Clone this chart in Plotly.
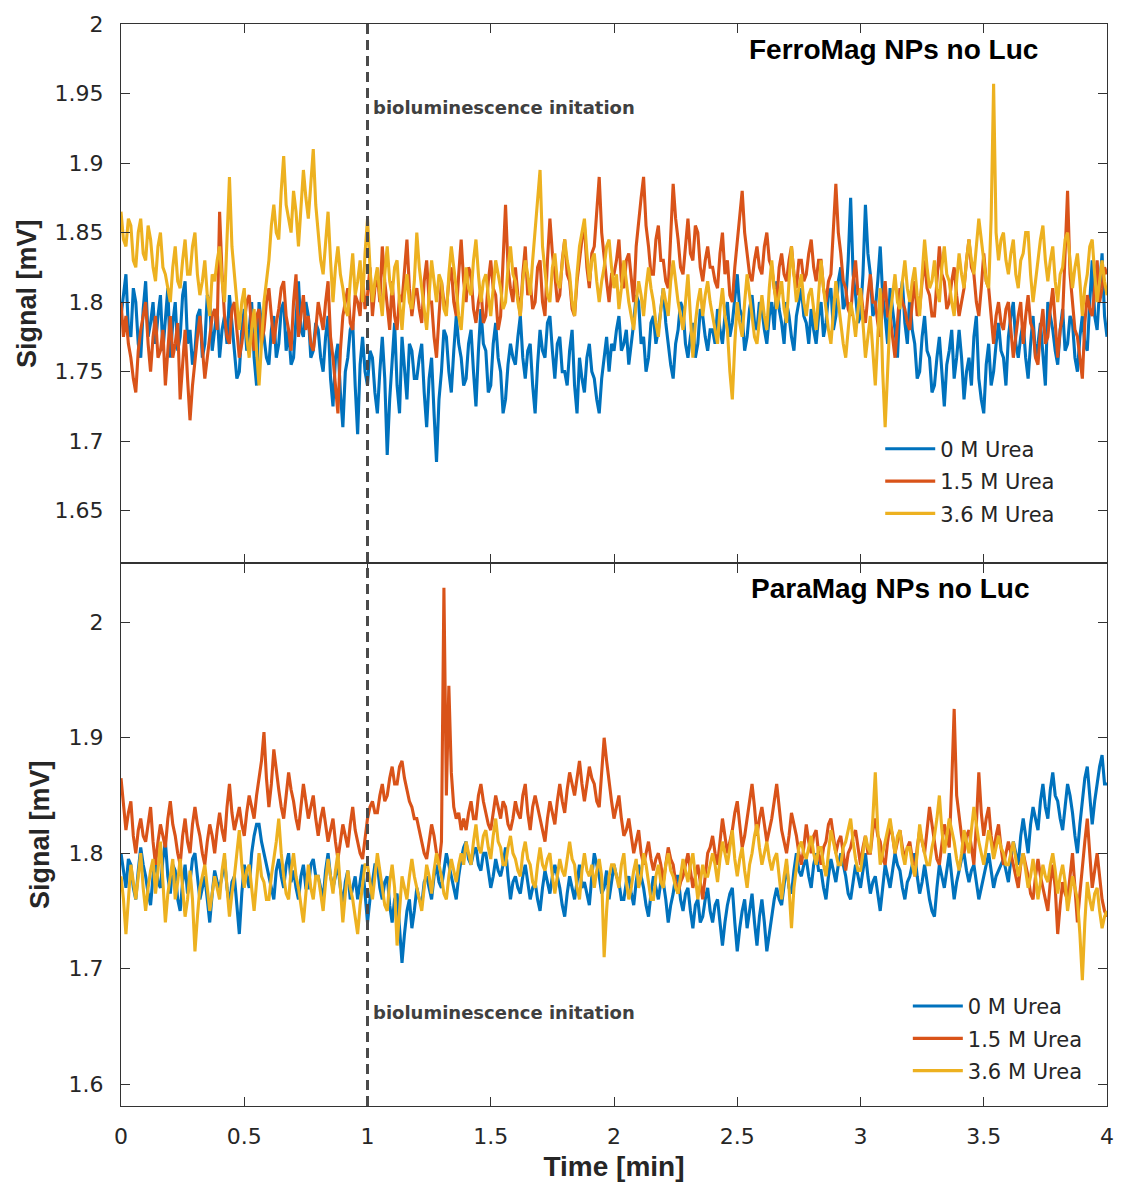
import plotly.graph_objects as go

# ---------------- data (signal in mV, sampled every 0.01 min) ----------------
DT = 0.01

ferro_0M = [
    1.790,1.805,1.820,1.780,1.775,1.810,1.800,1.770,1.760,1.795,1.815,1.775,1.785,1.800,1.770,1.790,1.805,1.765,1.790,1.810,
    1.760,1.785,1.800,1.765,1.775,1.805,1.815,1.770,1.780,1.755,1.765,1.790,1.795,1.760,1.770,1.805,1.800,1.765,1.780,1.795,
    1.760,1.780,1.790,1.770,1.805,1.785,1.770,1.745,1.750,1.780,1.795,1.765,1.780,1.800,1.760,1.740,1.800,1.785,1.775,1.760,
    1.755,1.780,1.790,1.760,1.770,1.795,1.800,1.765,1.780,1.755,1.760,1.790,1.815,1.780,1.775,1.800,1.790,1.760,1.765,1.785,
    1.780,1.760,1.750,1.775,1.790,1.745,1.725,1.760,1.770,1.735,1.710,1.750,1.760,1.780,1.785,1.740,1.705,1.755,1.775,1.750,
    1.740,1.765,1.760,1.735,1.720,1.750,1.775,1.745,1.690,1.730,1.760,1.785,1.740,1.720,1.775,1.755,1.730,1.770,1.765,1.745,
    1.745,1.760,1.770,1.735,1.710,1.745,1.760,1.720,1.685,1.730,1.750,1.780,1.775,1.750,1.735,1.765,1.790,1.770,1.760,1.740,
    1.745,1.770,1.780,1.750,1.725,1.765,1.795,1.770,1.765,1.735,1.740,1.770,1.785,1.760,1.750,1.720,1.730,1.755,1.770,1.760,
    1.755,1.775,1.790,1.760,1.745,1.765,1.770,1.740,1.720,1.755,1.780,1.765,1.760,1.785,1.790,1.765,1.745,1.770,1.775,1.750,
    1.750,1.740,1.765,1.780,1.740,1.720,1.760,1.745,1.735,1.760,1.770,1.750,1.745,1.730,1.720,1.745,1.760,1.775,1.750,1.770,
    1.765,1.780,1.790,1.765,1.770,1.780,1.755,1.770,1.785,1.805,1.800,1.770,1.775,1.750,1.760,1.785,1.790,1.770,1.780,1.795,
    1.810,1.785,1.770,1.755,1.745,1.770,1.780,1.800,1.795,1.770,1.760,1.775,1.785,1.760,1.770,1.795,1.790,1.775,1.765,1.780,
    1.780,1.770,1.795,1.780,1.770,1.790,1.800,1.775,1.785,1.805,1.820,1.795,1.790,1.765,1.775,1.795,1.805,1.785,1.780,1.800,
    1.795,1.780,1.770,1.790,1.800,1.780,1.815,1.795,1.785,1.770,1.800,1.790,1.775,1.765,1.790,1.800,1.810,1.790,1.785,1.770,
    1.795,1.780,1.770,1.790,1.800,1.775,1.785,1.805,1.810,1.780,1.790,1.815,1.825,1.795,1.800,1.830,1.875,1.820,1.805,1.785,
    1.790,1.820,1.870,1.835,1.820,1.790,1.795,1.815,1.840,1.805,1.790,1.770,1.810,1.795,1.780,1.760,1.800,1.815,1.785,1.770,
    1.805,1.780,1.770,1.745,1.750,1.775,1.790,1.765,1.760,1.735,1.740,1.760,1.775,1.750,1.725,1.755,1.765,1.780,1.745,1.760,
    1.780,1.760,1.730,1.750,1.760,1.740,1.775,1.790,1.745,1.730,1.720,1.755,1.770,1.740,1.750,1.770,1.785,1.765,1.760,1.740,
    1.775,1.790,1.800,1.770,1.760,1.775,1.785,1.760,1.745,1.770,1.790,1.760,1.770,1.785,1.760,1.740,1.800,1.790,1.780,1.765,
    1.755,1.780,1.795,1.765,1.770,1.790,1.785,1.760,1.750,1.775,1.790,1.770,1.765,1.800,1.830,1.790,1.780,1.810,1.835,1.790,
    1.775,
]

ferro_15M = [
    1.800,1.775,1.790,1.770,1.760,1.745,1.735,1.765,1.780,1.790,1.800,1.770,1.750,1.775,1.790,1.760,1.765,1.780,1.740,1.765,
    1.790,1.760,1.770,1.785,1.730,1.755,1.780,1.745,1.715,1.740,1.760,1.775,1.790,1.770,1.745,1.760,1.775,1.790,1.795,1.780,
    1.865,1.820,1.790,1.775,1.770,1.795,1.800,1.780,1.760,1.770,1.785,1.800,1.805,1.780,1.765,1.790,1.795,1.770,1.780,1.800,
    1.810,1.790,1.770,1.785,1.795,1.810,1.815,1.790,1.780,1.765,1.800,1.820,1.775,1.790,1.805,1.780,1.790,1.770,1.765,1.780,
    1.800,1.790,1.780,1.800,1.815,1.775,1.760,1.740,1.720,1.765,1.790,1.800,1.810,1.785,1.780,1.805,1.800,1.790,1.820,1.795,
    1.805,1.825,1.790,1.810,1.820,1.800,1.840,1.815,1.795,1.780,1.815,1.790,1.780,1.805,1.800,1.825,1.845,1.810,1.790,1.805,
    1.810,1.795,1.785,1.815,1.830,1.800,1.800,1.775,1.760,1.790,1.815,1.800,1.795,1.815,1.825,1.800,1.790,1.820,1.845,1.815,
    1.800,1.825,1.820,1.795,1.785,1.800,1.810,1.785,1.790,1.815,1.830,1.810,1.805,1.780,1.790,1.830,1.870,1.825,1.810,1.800,
    1.825,1.805,1.790,1.820,1.840,1.805,1.815,1.795,1.800,1.825,1.830,1.800,1.790,1.830,1.860,1.835,1.820,1.800,1.805,1.830,
    1.845,1.820,1.815,1.795,1.790,1.815,1.830,1.845,1.855,1.825,1.810,1.835,1.840,1.865,1.890,1.850,1.830,1.815,1.800,1.820,
    1.820,1.830,1.845,1.815,1.810,1.830,1.835,1.815,1.800,1.840,1.860,1.875,1.890,1.855,1.840,1.820,1.820,1.845,1.855,1.830,
    1.830,1.815,1.810,1.850,1.885,1.860,1.845,1.825,1.820,1.840,1.860,1.835,1.830,1.855,1.850,1.825,1.815,1.830,1.840,1.825,
    1.825,1.815,1.810,1.835,1.850,1.820,1.830,1.805,1.800,1.825,1.845,1.860,1.880,1.850,1.835,1.820,1.815,1.830,1.840,1.825,
    1.820,1.840,1.850,1.830,1.825,1.810,1.800,1.825,1.835,1.820,1.815,1.830,1.840,1.820,1.810,1.830,1.830,1.815,1.820,1.835,
    1.845,1.825,1.815,1.830,1.830,1.810,1.800,1.815,1.820,1.850,1.885,1.850,1.835,1.815,1.810,1.795,1.790,1.815,1.830,1.805,
    1.810,1.795,1.785,1.805,1.820,1.800,1.800,1.785,1.775,1.800,1.815,1.790,1.790,1.775,1.760,1.785,1.810,1.800,1.795,1.785,
    1.780,1.800,1.815,1.790,1.795,1.815,1.830,1.810,1.805,1.790,1.790,1.815,1.840,1.820,1.815,1.795,1.800,1.815,1.825,1.805,
    1.790,1.800,1.810,1.830,1.845,1.825,1.820,1.800,1.790,1.810,1.835,1.815,1.810,1.790,1.770,1.790,1.800,1.785,1.780,1.795,
    1.800,1.780,1.760,1.775,1.790,1.800,1.770,1.790,1.805,1.785,1.780,1.760,1.755,1.780,1.795,1.770,1.775,1.795,1.810,1.785,
    1.760,1.780,1.790,1.835,1.880,1.820,1.800,1.780,1.775,1.760,1.745,1.785,1.805,1.795,1.790,1.810,1.830,1.800,1.810,1.825,
    1.820,
]

ferro_36M = [
    1.865,1.845,1.840,1.860,1.855,1.830,1.825,1.850,1.860,1.835,1.830,1.855,1.845,1.825,1.815,1.840,1.850,1.825,1.820,1.810,
    1.800,1.825,1.840,1.815,1.810,1.830,1.845,1.820,1.820,1.840,1.850,1.820,1.805,1.815,1.830,1.805,1.790,1.820,1.815,1.830,
    1.840,1.815,1.800,1.845,1.890,1.840,1.820,1.795,1.780,1.800,1.810,1.775,1.760,1.780,1.795,1.765,1.740,1.770,1.800,1.815,
    1.830,1.855,1.870,1.850,1.845,1.880,1.905,1.870,1.860,1.850,1.880,1.865,1.840,1.870,1.895,1.875,1.860,1.885,1.910,1.870,
    1.850,1.830,1.820,1.845,1.865,1.830,1.800,1.825,1.840,1.820,1.810,1.795,1.790,1.815,1.835,1.805,1.815,1.830,1.800,1.835,
    1.860,1.825,1.800,1.815,1.825,1.805,1.790,1.820,1.840,1.815,1.805,1.825,1.830,1.800,1.780,1.805,1.820,1.800,1.795,1.815,
    1.850,1.825,1.810,1.795,1.780,1.805,1.830,1.815,1.800,1.820,1.815,1.795,1.790,1.820,1.840,1.825,1.810,1.790,1.780,1.805,
    1.825,1.810,1.805,1.830,1.845,1.820,1.800,1.815,1.820,1.805,1.790,1.810,1.830,1.820,1.810,1.795,1.800,1.825,1.840,1.820,
    1.815,1.800,1.790,1.815,1.830,1.820,1.805,1.830,1.850,1.870,1.895,1.840,1.820,1.805,1.800,1.825,1.835,1.815,1.810,1.830,
    1.845,1.830,1.820,1.800,1.790,1.820,1.840,1.850,1.860,1.835,1.815,1.830,1.835,1.815,1.800,1.815,1.825,1.840,1.845,1.825,
    1.810,1.820,1.795,1.810,1.830,1.815,1.800,1.790,1.780,1.800,1.815,1.805,1.790,1.810,1.825,1.810,1.800,1.785,1.775,1.795,
    1.810,1.800,1.790,1.815,1.830,1.815,1.800,1.790,1.780,1.800,1.820,1.790,1.760,1.785,1.800,1.810,1.790,1.805,1.815,1.800,
    1.790,1.780,1.770,1.795,1.810,1.790,1.780,1.750,1.730,1.770,1.800,1.785,1.775,1.800,1.820,1.805,1.790,1.775,1.770,1.790,
    1.805,1.790,1.780,1.810,1.830,1.810,1.795,1.805,1.815,1.795,1.785,1.815,1.840,1.820,1.800,1.810,1.820,1.800,1.790,1.805,
    1.810,1.795,1.780,1.805,1.830,1.810,1.795,1.780,1.770,1.790,1.815,1.800,1.785,1.770,1.760,1.780,1.800,1.790,1.775,1.795,
    1.810,1.785,1.760,1.775,1.790,1.765,1.740,1.775,1.810,1.750,1.710,1.750,1.790,1.805,1.820,1.800,1.795,1.815,1.830,1.810,
    1.800,1.815,1.825,1.805,1.790,1.820,1.845,1.825,1.810,1.815,1.830,1.810,1.800,1.825,1.840,1.820,1.815,1.800,1.790,1.815,
    1.835,1.820,1.810,1.830,1.845,1.830,1.820,1.840,1.860,1.845,1.830,1.815,1.810,1.860,1.957,1.850,1.830,1.845,1.850,1.830,
    1.820,1.835,1.845,1.820,1.810,1.830,1.835,1.850,1.850,1.820,1.800,1.815,1.830,1.845,1.855,1.830,1.815,1.830,1.840,1.815,
    1.800,1.820,1.825,1.845,1.850,1.830,1.810,1.825,1.835,1.815,1.790,1.810,1.820,1.840,1.845,1.820,1.800,1.815,1.830,1.815,
    1.805,
]

para_0M = [
    1.800,1.785,1.770,1.795,1.790,1.770,1.760,1.785,1.805,1.790,1.780,1.765,1.755,1.780,1.795,1.775,1.770,1.795,1.810,1.780,
    1.765,1.790,1.785,1.760,1.750,1.775,1.790,1.765,1.775,1.795,1.800,1.780,1.760,1.770,1.780,1.760,1.740,1.765,1.785,1.775,
    1.770,1.780,1.795,1.770,1.755,1.775,1.780,1.755,1.730,1.765,1.790,1.780,1.770,1.800,1.815,1.825,1.825,1.810,1.800,1.790,
    1.780,1.770,1.760,1.785,1.795,1.780,1.770,1.790,1.800,1.775,1.785,1.770,1.760,1.780,1.790,1.770,1.770,1.790,1.795,1.780,
    1.780,1.770,1.760,1.785,1.800,1.780,1.770,1.780,1.790,1.770,1.755,1.775,1.785,1.760,1.770,1.780,1.760,1.775,1.790,1.765,
    1.740,1.760,1.775,1.790,1.790,1.770,1.760,1.775,1.780,1.755,1.740,1.760,1.765,1.730,1.705,1.730,1.750,1.760,1.735,1.750,
    1.770,1.760,1.755,1.775,1.780,1.770,1.760,1.780,1.790,1.775,1.770,1.785,1.800,1.790,1.780,1.770,1.760,1.780,1.795,1.805,
    1.810,1.795,1.790,1.800,1.805,1.790,1.785,1.800,1.800,1.785,1.770,1.780,1.795,1.785,1.780,1.790,1.805,1.780,1.760,1.775,
    1.780,1.770,1.765,1.780,1.790,1.775,1.760,1.770,1.775,1.760,1.750,1.770,1.785,1.775,1.765,1.780,1.790,1.780,1.770,1.755,
    1.745,1.765,1.780,1.770,1.760,1.775,1.790,1.770,1.775,1.765,1.755,1.780,1.800,1.790,1.780,1.765,1.770,1.785,1.760,1.775,
    1.790,1.780,1.775,1.760,1.760,1.775,1.780,1.765,1.755,1.775,1.790,1.780,1.770,1.755,1.745,1.765,1.780,1.770,1.760,1.775,
    1.775,1.760,1.740,1.755,1.765,1.780,1.780,1.760,1.750,1.765,1.770,1.750,1.735,1.755,1.760,1.740,1.745,1.760,1.770,1.750,
    1.740,1.755,1.760,1.740,1.720,1.740,1.755,1.765,1.770,1.740,1.715,1.735,1.750,1.760,1.735,1.750,1.765,1.740,1.720,1.745,
    1.760,1.740,1.715,1.730,1.745,1.760,1.770,1.760,1.755,1.775,1.790,1.770,1.765,1.785,1.800,1.785,1.780,1.790,1.795,1.780,
    1.770,1.790,1.800,1.785,1.785,1.770,1.760,1.780,1.795,1.785,1.775,1.790,1.800,1.790,1.780,1.765,1.760,1.775,1.790,1.780,
    1.770,1.785,1.800,1.780,1.765,1.775,1.780,1.765,1.750,1.770,1.790,1.780,1.770,1.785,1.800,1.790,1.785,1.770,1.760,1.775,
    1.780,1.790,1.800,1.780,1.765,1.775,1.790,1.775,1.760,1.750,1.745,1.770,1.790,1.780,1.770,1.785,1.800,1.780,1.760,1.775,
    1.785,1.795,1.800,1.785,1.775,1.785,1.790,1.775,1.760,1.770,1.780,1.790,1.800,1.785,1.770,1.780,1.785,1.790,1.795,1.785,
    1.775,1.795,1.810,1.800,1.790,1.815,1.830,1.815,1.800,1.825,1.840,1.830,1.820,1.845,1.860,1.840,1.830,1.855,1.870,1.850,
    1.845,1.830,1.820,1.840,1.860,1.850,1.835,1.815,1.800,1.825,1.845,1.865,1.875,1.850,1.825,1.845,1.860,1.875,1.885,1.860,
    1.860,
]

para_15M = [
    1.865,1.840,1.820,1.835,1.845,1.815,1.800,1.820,1.830,1.815,1.810,1.825,1.840,1.810,1.790,1.810,1.825,1.815,1.805,1.830,
    1.845,1.825,1.815,1.800,1.790,1.815,1.830,1.810,1.800,1.825,1.840,1.825,1.815,1.800,1.790,1.810,1.825,1.815,1.800,1.820,
    1.835,1.820,1.810,1.840,1.860,1.835,1.820,1.830,1.840,1.825,1.815,1.835,1.850,1.840,1.830,1.850,1.865,1.880,1.905,1.865,
    1.840,1.860,1.890,1.870,1.855,1.840,1.830,1.850,1.870,1.855,1.845,1.830,1.820,1.840,1.860,1.845,1.830,1.840,1.850,1.830,
    1.815,1.830,1.840,1.825,1.810,1.820,1.830,1.810,1.795,1.810,1.825,1.815,1.805,1.825,1.840,1.820,1.810,1.800,1.795,1.815,
    1.830,1.840,1.845,1.835,1.835,1.850,1.860,1.845,1.850,1.865,1.875,1.860,1.860,1.875,1.880,1.865,1.855,1.845,1.840,1.830,
    1.830,1.820,1.810,1.800,1.795,1.810,1.825,1.815,1.800,1.790,1.810,2.030,1.850,1.945,1.870,1.840,1.830,1.835,1.820,1.830,
    1.820,1.835,1.845,1.830,1.830,1.850,1.860,1.845,1.835,1.825,1.820,1.835,1.850,1.840,1.830,1.845,1.840,1.825,1.820,1.830,
    1.845,1.835,1.830,1.850,1.860,1.835,1.820,1.840,1.850,1.840,1.830,1.820,1.810,1.830,1.845,1.835,1.825,1.845,1.860,1.845,
    1.835,1.855,1.870,1.860,1.850,1.865,1.880,1.860,1.845,1.860,1.875,1.865,1.860,1.845,1.840,1.870,1.900,1.880,1.860,1.845,
    1.830,1.840,1.850,1.830,1.815,1.820,1.830,1.815,1.800,1.810,1.820,1.800,1.790,1.800,1.810,1.795,1.785,1.795,1.800,1.790,
    1.775,1.790,1.805,1.795,1.790,1.775,1.765,1.775,1.780,1.790,1.800,1.785,1.770,1.780,1.790,1.775,1.760,1.780,1.800,1.805,
    1.815,1.800,1.790,1.810,1.830,1.815,1.800,1.810,1.820,1.835,1.845,1.825,1.805,1.815,1.830,1.845,1.860,1.840,1.815,1.830,
    1.840,1.825,1.810,1.820,1.830,1.845,1.860,1.840,1.820,1.810,1.800,1.815,1.835,1.825,1.815,1.800,1.790,1.805,1.825,1.810,
    1.800,1.815,1.820,1.800,1.790,1.805,1.810,1.825,1.830,1.815,1.800,1.810,1.815,1.800,1.785,1.800,1.805,1.815,1.820,1.805,
    1.790,1.805,1.815,1.800,1.800,1.820,1.830,1.815,1.810,1.795,1.790,1.810,1.825,1.815,1.800,1.810,1.820,1.805,1.795,1.805,
    1.810,1.795,1.780,1.805,1.820,1.810,1.800,1.820,1.840,1.825,1.810,1.795,1.790,1.810,1.825,1.815,1.805,1.860,1.925,1.850,
    1.830,1.815,1.800,1.815,1.820,1.805,1.790,1.825,1.870,1.835,1.815,1.830,1.840,1.815,1.800,1.815,1.825,1.805,1.790,1.800,
    1.810,1.800,1.790,1.780,1.770,1.790,1.800,1.790,1.780,1.765,1.760,1.780,1.795,1.780,1.770,1.760,1.750,1.775,1.790,1.770,
    1.730,1.755,1.775,1.765,1.760,1.780,1.800,1.770,1.740,1.765,1.790,1.810,1.830,1.800,1.770,1.785,1.800,1.780,1.760,1.750,
    1.745,
]

para_36M = [
    1.780,1.760,1.730,1.765,1.790,1.775,1.760,1.780,1.800,1.770,1.750,1.770,1.785,1.795,1.765,1.785,1.810,1.775,1.740,1.765,
    1.780,1.795,1.760,1.775,1.795,1.770,1.745,1.760,1.785,1.760,1.715,1.745,1.770,1.780,1.790,1.770,1.750,1.765,1.780,1.770,
    1.760,1.785,1.800,1.770,1.745,1.765,1.780,1.800,1.820,1.790,1.770,1.785,1.790,1.770,1.750,1.775,1.800,1.780,1.775,1.760,
    1.760,1.780,1.795,1.810,1.830,1.800,1.780,1.765,1.760,1.785,1.800,1.780,1.770,1.755,1.740,1.765,1.790,1.770,1.760,1.780,
    1.780,1.765,1.750,1.775,1.795,1.780,1.765,1.785,1.800,1.770,1.740,1.765,1.785,1.770,1.760,1.745,1.730,1.755,1.775,1.790,
    1.790,1.775,1.760,1.780,1.800,1.785,1.770,1.755,1.750,1.775,1.790,1.770,1.720,1.755,1.780,1.770,1.760,1.780,1.795,1.780,
    1.770,1.760,1.750,1.770,1.790,1.780,1.765,1.785,1.800,1.790,1.780,1.765,1.760,1.780,1.795,1.785,1.775,1.790,1.800,1.790,
    1.810,1.800,1.790,1.810,1.825,1.805,1.800,1.815,1.820,1.805,1.795,1.815,1.830,1.810,1.805,1.790,1.790,1.805,1.815,1.800,
    1.795,1.785,1.780,1.800,1.810,1.795,1.790,1.775,1.770,1.790,1.805,1.790,1.785,1.795,1.800,1.780,1.765,1.780,1.795,1.785,
    1.780,1.795,1.810,1.795,1.790,1.770,1.760,1.785,1.800,1.785,1.780,1.790,1.770,1.785,1.795,1.780,1.710,1.750,1.780,1.790,
    1.790,1.780,1.770,1.790,1.800,1.775,1.760,1.770,1.785,1.795,1.770,1.780,1.800,1.790,1.775,1.760,1.760,1.780,1.790,1.775,
    1.770,1.790,1.800,1.785,1.780,1.770,1.765,1.780,1.795,1.785,1.775,1.790,1.800,1.780,1.760,1.775,1.790,1.780,1.780,1.790,
    1.800,1.790,1.775,1.795,1.810,1.800,1.790,1.805,1.820,1.795,1.780,1.795,1.805,1.785,1.770,1.790,1.800,1.815,1.825,1.805,
    1.790,1.800,1.810,1.795,1.785,1.795,1.800,1.780,1.760,1.780,1.795,1.770,1.735,1.770,1.790,1.805,1.810,1.800,1.795,1.805,
    1.815,1.800,1.790,1.805,1.805,1.790,1.780,1.800,1.820,1.810,1.800,1.790,1.790,1.805,1.810,1.820,1.830,1.810,1.795,1.785,
    1.785,1.800,1.815,1.805,1.800,1.830,1.870,1.820,1.790,1.800,1.810,1.820,1.830,1.815,1.800,1.815,1.820,1.800,1.790,1.805,
    1.805,1.790,1.780,1.800,1.825,1.810,1.800,1.790,1.790,1.805,1.815,1.830,1.850,1.820,1.800,1.815,1.830,1.820,1.810,1.795,
    1.785,1.800,1.820,1.810,1.800,1.820,1.840,1.825,1.810,1.800,1.790,1.805,1.820,1.810,1.795,1.805,1.815,1.805,1.800,1.790,
    1.790,1.800,1.810,1.795,1.780,1.790,1.800,1.785,1.770,1.780,1.795,1.780,1.760,1.775,1.790,1.780,1.775,1.790,1.800,1.785,
    1.765,1.780,1.790,1.775,1.750,1.765,1.780,1.770,1.760,1.730,1.690,1.740,1.775,1.760,1.750,1.765,1.770,1.750,1.735,1.745,
    1.750,
]

series_names = ["0 M Urea", "1.5 M Urea", "3.6 M Urea"]
series_colors = ["#0072BD", "#D95319", "#EDB120"]

x_ticks = [0, 0.5, 1, 1.5, 2, 2.5, 3, 3.5, 4]
x_ticktext = ["0", "0.5", "1", "1.5", "2", "2.5", "3", "3.5", "4"]
top_yticks = [1.65, 1.7, 1.75, 1.8, 1.85, 1.9, 1.95, 2.0]
top_yticktext = ["1.65", "1.7", "1.75", "1.8", "1.85", "1.9", "1.95", "2"]
bot_yticks = [1.6, 1.7, 1.8, 1.9, 2.0]
bot_yticktext = ["1.6", "1.7", "1.8", "1.9", "2"]

panel_titles = ["FerroMag NPs no Luc", "ParaMag NPs no Luc"]
event_time = 1.0
event_label = "bioluminescence initation"

# ---------------- figure ----------------
FONT = "Liberation Sans, Arial, sans-serif"
WIDE = "DejaVu Sans, Verdana, sans-serif"
AX = "#262626"


def times_for(ys):
    return [round(i * DT, 2) for i in range(len(ys))]


fig = go.Figure()

top_series = [ferro_0M, ferro_15M, ferro_36M]
bot_series = [para_0M, para_15M, para_36M]

for i, ys in enumerate(top_series):
    fig.add_trace(go.Scatter(
        x=times_for(ys), y=ys, mode="lines", name=series_names[i],
        line=dict(color=series_colors[i], width=3.1),
        xaxis="x", yaxis="y", legend="legend", legendgroup=f"t{i}"))

for i, ys in enumerate(bot_series):
    fig.add_trace(go.Scatter(
        x=times_for(ys), y=ys, mode="lines", name=series_names[i],
        line=dict(color=series_colors[i], width=3.1),
        xaxis="x2", yaxis="y2", legend="legend2", legendgroup=f"b{i}"))

split = 0.5014
common_axis = dict(showline=True, linecolor="#333333", linewidth=1.3, mirror="ticks",
                   ticks="inside", ticklen=9, tickwidth=1.3, tickcolor="#333333",
                   showgrid=False, zeroline=False,
                   tickfont=dict(family=WIDE, size=22, color=AX))

ytitle_font = dict(family=FONT, size=27, color=AX)

fig.update_layout(
    width=1126, height=1191,
    margin=dict(l=121, r=15, t=17, b=85),
    plot_bgcolor="white", paper_bgcolor="white",
    xaxis=dict(domain=[0, 1], range=[0, 4], tickvals=x_ticks, ticktext=x_ticktext,
               showticklabels=False, anchor="y", **common_axis),
    yaxis=dict(domain=[split, 1], range=[1.612, 2.0], tickvals=top_yticks,
               ticktext=top_yticktext, anchor="x", ticklabelstandoff=12,
               title=dict(text="<b>Signal [mV]</b>", standoff=10, font=ytitle_font),
               **common_axis),
    xaxis2=dict(domain=[0, 1], range=[0, 4], tickvals=x_ticks, ticktext=x_ticktext,
                anchor="y2", matches="x", ticklabelstandoff=10,
                title=dict(text="<b>Time [min]</b>", standoff=8,
                           font=dict(family=FONT, size=28, color=AX)),
                **common_axis),
    yaxis2=dict(domain=[0, split], range=[1.581, 2.051], tickvals=bot_yticks,
                ticktext=bot_yticktext, anchor="x2", ticklabelstandoff=12,
                title=dict(text="<b>Signal [mV]</b>", standoff=10, font=ytitle_font),
                **common_axis),
    legend=dict(x=0.770, y=0.626, xanchor="left", yanchor="top",
                bgcolor="white", borderwidth=0, tracegroupgap=2, itemwidth=50,
                font=dict(family=WIDE, size=21, color=AX)),
    legend2=dict(x=0.798, y=0.111, xanchor="left", yanchor="top",
                 bgcolor="white", borderwidth=0, tracegroupgap=2, itemwidth=50,
                 font=dict(family=WIDE, size=21, color=AX)),
)

# vertical dashed line spanning both panels
fig.add_shape(type="line", xref="x", yref="paper", x0=event_time, x1=event_time,
              y0=0, y1=1, line=dict(color="#4a4a4a", width=3, dash="10px,6px"),
              layer="above")

ann_font = dict(family=WIDE, size=18, color="#404040")
fig.add_annotation(x=event_time + 0.015, y=1.94, xref="x", yref="y", text=f"<b>{event_label}</b>",
                   showarrow=False, xanchor="left", yanchor="middle", font=ann_font)
fig.add_annotation(x=event_time + 0.015, y=1.662, xref="x2", yref="y2", text=f"<b>{event_label}</b>",
                   showarrow=False, xanchor="left", yanchor="middle", font=ann_font)

title_font = dict(family=FONT, size=28, color="black")
fig.add_annotation(x=3.132, y=1.982, xref="x", yref="y", text=f"<b>{panel_titles[0]}</b>",
                   showarrow=False, xanchor="center", yanchor="middle", font=title_font)
fig.add_annotation(x=3.122, y=2.029, xref="x2", yref="y2", text=f"<b>{panel_titles[1]}</b>",
                   showarrow=False, xanchor="center", yanchor="middle", font=title_font)

fig.write_html("out.html")
